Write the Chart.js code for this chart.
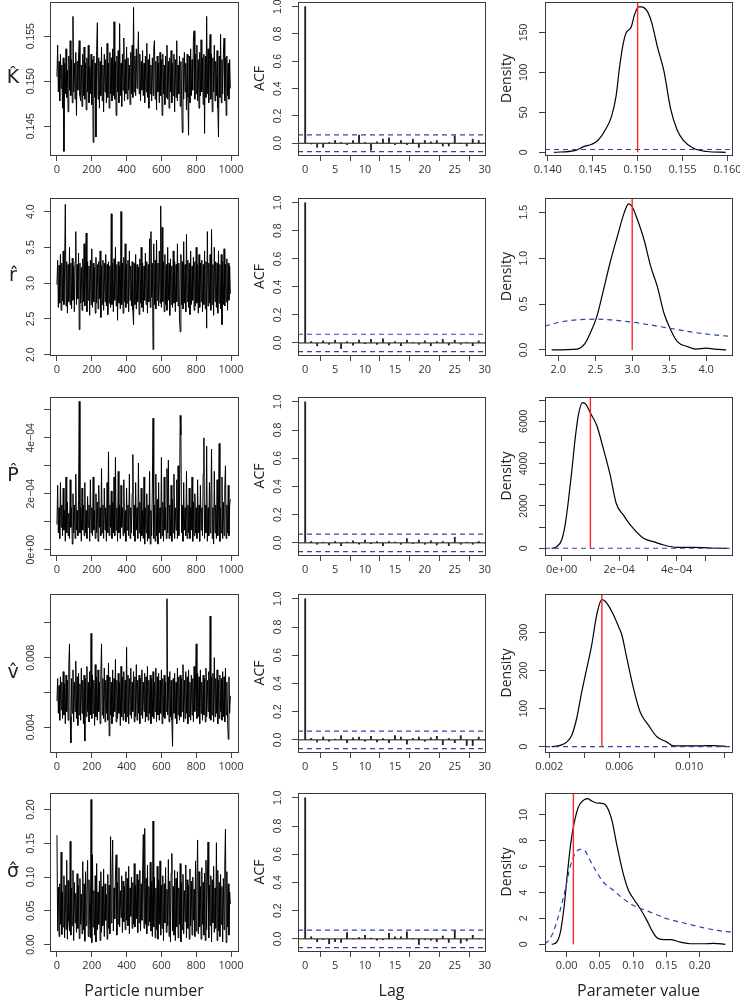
<!DOCTYPE html>
<html>
<head>
<meta charset="utf-8">
<script src="https://cdn.jsdelivr.net/npm/chart.js@4.4.1/dist/chart.umd.min.js"></script>
<style>
html, body { margin: 0; padding: 0; background: #fff; overflow: hidden; }
#page { position: relative; width: 740px; height: 1001px; }
#page canvas { position: absolute; }
</style>
</head>
<body>
<div id="page"></div>
<script>
// ---- data ----
const particleStep = 4;          // one trace value every 4 particles
const traceXTicks = [0, 200, 400, 600, 800, 1000];
const traceXLabels = ['0', '200', '400', '600', '800', '1000'];

const traceK = [
  0.1505, 0.1540, 0.1488, 0.1522, 0.1478, 0.1530, 0.1492, 0.1518, 0.1470, 0.1526,
  0.1422, 0.1520, 0.1486, 0.1536, 0.1482, 0.1512, 0.1466, 0.1528, 0.1490, 0.1545,
  0.1484, 0.1524, 0.1476, 0.1572, 0.1488, 0.1520, 0.1480, 0.1532, 0.1462, 0.1522,
  0.1490, 0.1528, 0.1545, 0.1484, 0.1478, 0.1518, 0.1472, 0.1530, 0.1484, 0.1538,
  0.1480, 0.1520, 0.1468, 0.1526, 0.1488, 0.1540, 0.1476, 0.1516, 0.1486, 0.1530,
  0.1474, 0.1524, 0.1432, 0.1528, 0.1482, 0.1520, 0.1438, 0.1534, 0.1565, 0.1480,
  0.1526, 0.1470, 0.1522, 0.1484, 0.1538, 0.1478, 0.1518, 0.1466, 0.1530, 0.1488,
  0.1524, 0.1476, 0.1542, 0.1482, 0.1520, 0.1470, 0.1532, 0.1486, 0.1526, 0.1478,
  0.1536, 0.1484, 0.1566, 0.1480, 0.1522, 0.1462, 0.1528, 0.1488, 0.1534, 0.1476,
  0.1564, 0.1484, 0.1520, 0.1472, 0.1530, 0.1490, 0.1548, 0.1478, 0.1524, 0.1486,
  0.1538, 0.1480, 0.1526, 0.1490, 0.1518, 0.1474, 0.1532, 0.1486, 0.1540, 0.1482,
  0.1582, 0.1488, 0.1528, 0.1484, 0.1536, 0.1492, 0.1524, 0.1555, 0.1486, 0.1530,
  0.1478, 0.1522, 0.1490, 0.1534, 0.1484, 0.1520, 0.1476, 0.1528, 0.1488, 0.1542,
  0.1482, 0.1524, 0.1470, 0.1530, 0.1486, 0.1518, 0.1478, 0.1526, 0.1484, 0.1536,
  0.1545, 0.1480, 0.1522, 0.1468, 0.1528, 0.1488, 0.1520, 0.1476, 0.1532, 0.1484,
  0.1524, 0.1462, 0.1530, 0.1486, 0.1518, 0.1474, 0.1528, 0.1482, 0.1540, 0.1480,
  0.1522, 0.1470, 0.1526, 0.1488, 0.1534, 0.1476, 0.1520, 0.1484, 0.1530, 0.1466,
  0.1524, 0.1482, 0.1545, 0.1478, 0.1518, 0.1486, 0.1528, 0.1472, 0.1522, 0.1484,
  0.1443, 0.1526, 0.1480, 0.1532, 0.1488, 0.1520, 0.1468, 0.1530, 0.1482, 0.1440,
  0.1528, 0.1476, 0.1536, 0.1484, 0.1524, 0.1490, 0.1548, 0.1556, 0.1480, 0.1530,
  0.1486, 0.1540, 0.1478, 0.1524, 0.1470, 0.1532, 0.1484, 0.1546, 0.1488, 0.1526,
  0.1474, 0.1530, 0.1442, 0.1528, 0.1482, 0.1572, 0.1486, 0.1536, 0.1476, 0.1524,
  0.1552, 0.1480, 0.1530, 0.1466, 0.1526, 0.1488, 0.1540, 0.1478, 0.1522, 0.1484,
  0.1534, 0.1470, 0.1438, 0.1528, 0.1482, 0.1552, 0.1476, 0.1524, 0.1486, 0.1530,
  0.1548, 0.1478, 0.1526, 0.1462, 0.1528, 0.1484, 0.1520, 0.1480, 0.1524, 0.1492];
const traceR = [
  2.98, 3.32, 2.66, 3.25, 2.72, 3.40, 2.62, 3.28, 2.75, 3.45,
  2.70, 3.22, 4.10, 2.68, 3.30, 2.58, 3.26, 2.74, 3.50, 2.70,
  3.28, 2.64, 3.35, 2.76, 3.24, 2.60, 3.30, 3.72, 2.70, 3.26,
  2.78, 3.42, 2.35, 3.28, 2.72, 3.22, 2.62, 3.34, 2.74, 3.55,
  2.68, 3.26, 3.70, 2.60, 3.30, 2.76, 3.24, 2.55, 3.32, 2.70,
  3.48, 2.66, 3.28, 2.74, 3.22, 2.58, 3.36, 2.72, 3.26, 2.64,
  3.30, 2.78, 3.45, 2.52, 3.24, 2.70, 3.32, 2.62, 3.28, 2.74,
  3.40, 2.68, 3.26, 2.56, 3.30, 2.72, 3.24, 2.66, 3.97, 2.70,
  3.28, 2.60, 3.34, 2.76, 3.50, 2.68, 3.26, 2.48, 3.30, 2.72,
  3.24, 2.64, 4.00, 2.70, 3.28, 2.58, 3.36, 2.74, 3.55, 2.66,
  3.26, 2.72, 3.32, 2.60, 3.45, 2.76, 3.24, 2.68, 3.30, 2.62,
  2.42, 3.28, 2.70, 3.40, 2.64, 3.26, 2.74, 3.22, 2.56, 3.34,
  2.72, 3.50, 2.66, 3.28, 2.60, 3.24, 2.76, 3.42, 2.70, 3.30,
  2.58, 3.26, 2.74, 3.62, 2.66, 3.72, 2.80, 3.28, 2.07, 3.55,
  2.70, 3.32, 2.64, 3.60, 2.76, 3.28, 2.68, 3.45, 2.72, 4.08,
  2.66, 3.78, 2.74, 3.30, 2.60, 3.40, 2.70, 3.26, 2.62, 3.50,
  2.76, 3.28, 2.55, 3.34, 2.70, 3.24, 2.66, 3.45, 2.72, 3.30,
  2.60, 3.26, 2.74, 3.55, 2.68, 3.28, 2.50, 2.32, 3.40, 2.70,
  3.30, 2.64, 3.58, 2.72, 3.26, 2.60, 3.68, 2.74, 3.32, 2.66,
  3.28, 2.56, 3.45, 2.70, 3.24, 2.76, 3.36, 2.62, 3.30, 2.68,
  3.50, 2.72, 3.26, 2.58, 3.40, 2.66, 3.28, 2.74, 3.32, 2.60,
  3.26, 2.70, 3.45, 2.64, 3.30, 2.37, 3.72, 2.68, 3.28, 2.72,
  3.40, 2.62, 3.75, 2.70, 3.26, 2.55, 3.50, 2.74, 3.30, 2.66,
  3.28, 2.58, 3.45, 2.72, 3.26, 2.64, 3.40, 2.42, 3.30, 2.70,
  3.48, 2.68, 3.26, 2.74, 3.34, 2.62, 3.28, 2.76, 3.24, 2.85];
// P in units of 1e-4
const traceP = [
  0.9, 2.3, 0.6, 1.5, 0.4, 2.4, 0.8, 1.6, 0.5, 2.2,
  0.7, 1.4, 0.3, 2.6, 0.6, 1.7, 0.5, 1.3, 0.4, 2.5,
  0.8, 1.5, 0.2, 2.0, 0.6, 1.6, 0.4, 2.7, 0.7, 1.4,
  0.5, 1.8, 5.3, 0.6, 1.5, 0.3, 2.2, 0.7, 1.6, 0.5,
  2.4, 0.6, 1.4, 0.4, 1.9, 0.8, 1.6, 0.3, 2.5, 0.6,
  1.5, 0.5, 2.6, 0.7, 1.4, 0.4, 2.0, 0.6, 1.7, 0.3,
  2.3, 0.8, 1.5, 0.5, 2.9, 0.6, 1.6, 0.4, 2.2, 0.7,
  1.5, 0.3, 2.4, 0.6, 3.5, 0.5, 1.6, 0.8, 2.1, 0.4,
  1.7, 0.6, 2.6, 0.5, 3.3, 0.7, 1.5, 0.3, 2.8, 0.6,
  1.6, 0.4, 2.3, 0.8, 1.5, 0.5, 2.5, 0.6, 1.4, 0.3,
  2.2, 0.7, 1.6, 0.5, 2.7, 0.4, 1.5, 0.6, 2.0, 3.4,
  0.5, 1.6, 0.3, 2.4, 0.7, 1.5, 0.4, 3.1, 0.6, 1.7,
  0.3, 2.2, 0.5, 1.4, 0.4, 2.6, 0.2, 1.5, 0.6, 2.0,
  0.3, 1.6, 0.4, 2.8, 0.2, 1.4, 0.5, 2.2, 4.7, 0.4,
  1.6, 0.3, 2.7, 0.5, 1.8, 0.2, 2.4, 0.6, 1.5, 0.4,
  3.3, 0.5, 1.7, 0.3, 2.6, 0.7, 1.5, 0.4, 2.9, 0.6,
  3.2, 0.4, 1.6, 0.5, 2.3, 0.3, 1.8, 0.6, 2.7, 0.4,
  1.5, 0.7, 2.5, 0.4, 3.0, 0.5, 1.7, 4.8, 4.1, 0.6,
  1.6, 0.3, 2.4, 0.7, 1.5, 0.5, 2.8, 0.4, 1.6, 0.6,
  2.2, 0.4, 1.5, 0.7, 2.6, 0.3, 1.7, 0.5, 2.0, 0.6,
  1.5, 0.4, 2.5, 0.6, 1.6, 0.3, 2.3, 0.7, 1.5, 0.5,
  2.7, 4.0, 0.4, 1.6, 0.6, 3.7, 0.3, 1.5, 0.5, 2.4,
  0.6, 1.7, 3.6, 0.4, 1.5, 0.2, 2.8, 0.6, 1.6, 0.4,
  2.5, 0.5, 1.6, 3.8, 0.3, 1.5, 0.6, 2.6, 0.4, 1.7,
  0.5, 2.2, 3.0, 0.4, 1.6, 0.6, 2.3, 0.5, 1.6, 1.8];
// v in units of 1e-3
const traceV = [
  5.5, 6.8, 4.8, 6.4, 4.4, 6.9, 5.0, 6.6, 4.5, 7.2,
  4.7, 6.5, 4.2, 7.0, 4.9, 6.7, 4.4, 7.6, 8.8, 4.6,
  3.1, 6.8, 4.8, 7.3, 4.3, 6.6, 4.9, 7.8, 4.5, 6.9,
  4.1, 7.1, 4.7, 6.5, 4.4, 7.4, 4.8, 6.7, 4.2, 7.0,
  3.2, 6.8, 4.6, 7.5, 4.9, 6.6, 4.3, 7.2, 4.7, 9.4,
  4.5, 7.0, 4.8, 6.7, 4.1, 7.6, 4.6, 6.9, 4.4, 7.3,
  4.9, 6.6, 4.2, 7.1, 8.8, 4.7, 6.8, 4.5, 7.4, 4.3,
  6.7, 4.8, 7.0, 4.4, 7.7, 3.5, 6.9, 4.7, 6.6, 4.2,
  7.3, 4.6, 6.8, 4.9, 7.9, 4.3, 6.7, 4.5, 7.1, 4.8,
  6.6, 4.1, 7.5, 4.6, 6.9, 4.4, 7.2, 4.8, 6.7, 4.3,
  8.6, 4.6, 7.0, 4.2, 6.8, 4.7, 7.4, 4.5, 6.6, 4.9,
  7.2, 4.3, 6.9, 4.6, 7.6, 4.4, 6.7, 4.8, 7.0, 4.2,
  6.8, 4.7, 7.3, 4.5, 6.6, 4.9, 7.1, 4.3, 6.9, 4.6,
  7.5, 4.4, 6.7, 4.8, 7.0, 4.2, 6.8, 4.6, 7.2, 4.5,
  6.6, 4.9, 7.4, 4.3, 6.9, 4.7, 7.1, 4.4, 6.7, 4.8,
  7.3, 4.2, 6.8, 4.6, 7.0, 4.5, 6.6, 4.9, 11.4, 4.7,
  6.9, 4.3, 7.2, 4.6, 6.7, 4.4, 2.9, 6.8, 4.8, 7.1,
  4.5, 6.6, 4.2, 7.4, 4.7, 6.9, 4.4, 7.0, 4.6, 6.8,
  4.9, 7.6, 4.3, 6.7, 4.5, 7.2, 4.8, 6.9, 4.2, 7.3,
  4.6, 6.6, 4.4, 7.0, 4.7, 6.8, 4.3, 7.5, 4.9, 6.7,
  8.8, 4.5, 7.1, 4.6, 6.9, 4.2, 7.3, 4.8, 6.6, 4.4,
  7.0, 4.7, 6.8, 4.3, 7.4, 4.6, 6.7, 4.9, 7.2, 4.5,
  10.4, 4.4, 6.9, 4.7, 7.1, 4.3, 8.0, 4.6, 6.8, 4.8,
  7.3, 4.2, 6.7, 4.5, 7.0, 4.9, 6.8, 4.4, 7.2, 4.6,
  6.9, 4.3, 7.4, 4.7, 6.6, 4.5, 3.3, 6.9, 4.8, 5.8];
const traceSigma = [
  0.162, 0.020, 0.085, 0.012, 0.090, 0.030, 0.137, 0.015, 0.078, 0.026,
  0.102, 0.010, 0.088, 0.022, 0.125, 0.008, 0.095, 0.035, 0.020, 0.153,
  0.014, 0.084, 0.028, 0.110, 0.006, 0.092, 0.032, 0.076, 0.018, 0.105,
  0.024, 0.088, 0.009, 0.098, 0.030, 0.075, 0.016, 0.123, 0.022, 0.090,
  0.005, 0.108, 0.028, 0.082, 0.125, 0.012, 0.096, 0.034, 0.010, 0.215,
  0.003, 0.133, 0.026, 0.080, 0.014, 0.102, 0.004, 0.120, 0.022, 0.078,
  0.030, 0.094, 0.006, 0.108, 0.018, 0.086, 0.028, 0.112, 0.012, 0.090,
  0.036, 0.074, 0.008, 0.104, 0.024, 0.088, 0.016, 0.160, 0.032, 0.096,
  0.155, 0.020, 0.084, 0.038, 0.106, 0.133, 0.014, 0.092, 0.030, 0.114,
  0.026, 0.080, 0.040, 0.102, 0.018, 0.094, 0.034, 0.086, 0.022, 0.108,
  0.036, 0.098, 0.028, 0.116, 0.016, 0.084, 0.042, 0.100, 0.024, 0.092,
  0.030, 0.120, 0.026, 0.088, 0.038, 0.104, 0.018, 0.096, 0.032, 0.110,
  0.020, 0.090, 0.036, 0.106, 0.163, 0.024, 0.172, 0.030, 0.098, 0.016,
  0.118, 0.028, 0.086, 0.034, 0.122, 0.020, 0.094, 0.012, 0.183, 0.026,
  0.100, 0.010, 0.084, 0.022, 0.116, 0.008, 0.096, 0.030, 0.124, 0.014,
  0.088, 0.024, 0.102, 0.006, 0.090, 0.032, 0.114, 0.018, 0.082, 0.028,
  0.126, 0.012, 0.094, 0.004, 0.106, 0.135, 0.020, 0.086, 0.014, 0.110,
  0.006, 0.098, 0.026, 0.108, 0.010, 0.084, 0.030, 0.120, 0.004, 0.092,
  0.022, 0.104, 0.016, 0.080, 0.034, 0.118, 0.010, 0.096, 0.024, 0.088,
  0.008, 0.112, 0.028, 0.094, 0.014, 0.100, 0.036, 0.082, 0.012, 0.124,
  0.020, 0.090, 0.155, 0.016, 0.108, 0.026, 0.086, 0.008, 0.114, 0.030,
  0.092, 0.014, 0.106, 0.006, 0.125, 0.022, 0.094, 0.152, 0.010, 0.088,
  0.028, 0.102, 0.004, 0.096, 0.032, 0.116, 0.018, 0.084, 0.024, 0.151,
  0.006, 0.110, 0.020, 0.092, 0.012, 0.104, 0.030, 0.086, 0.004, 0.098,
  0.022, 0.118, 0.171, 0.003, 0.108, 0.026, 0.090, 0.014, 0.078, 0.060];

const traceKTicks = [0.145, 0.150, 0.155];
const traceKLabels = ['0.145', '0.150', '0.155'];
const traceRTicks = [2.0, 2.5, 3.0, 3.5, 4.0];
const traceRLabels = ['2.0', '2.5', '3.0', '3.5', '4.0'];
const tracePTicks = [0, 1, 2, 3, 4, 5];
const tracePLabels = ['0e+00', '', '2e\u221204', '', '4e\u221204', ''];
const traceVTicks = [4, 6, 8, 10];
const traceVLabels = ['0.004', '', '0.008', ''];
const traceSigmaTicks = [0, 0.05, 0.10, 0.15, 0.20];
const traceSigmaLabels = ['0.00', '0.05', '0.10', '0.15', '0.20'];

// autocorrelation, lags 0..30
const lags = [0, 1, 2, 3, 4, 5, 6, 7, 8, 9, 10, 11, 12, 13, 14, 15, 16, 17, 18, 19, 20, 21, 22, 23, 24, 25, 26, 27, 28, 29, 30];
const acfK = [1, -0.005, -0.03, -0.03, 0.005, 0.02, 0.005, -0.01, 0.02, 0.06, 0.005, -0.05, 0.01, 0.03, 0.04, -0.01, 0.02, -0.01, 0.03, -0.03, 0.02, 0.01, 0.02, -0.02, -0.02, 0.055, 0, -0.02, 0.03, 0.02, 0];
const acfR = [1, 0.01, -0.02, 0.015, -0.01, 0.02, -0.04, 0.01, -0.015, 0.02, -0.005, 0.025, -0.01, 0.03, -0.015, 0.01, -0.02, 0.02, 0.005, -0.01, 0.015, -0.02, 0.01, 0.025, -0.015, 0.02, -0.01, 0.005, -0.02, 0.015, 0];
const acfP = [1, 0.01, -0.01, 0.005, -0.015, 0.01, -0.02, 0.005, 0.015, -0.01, 0.02, -0.005, 0.01, -0.02, 0.01, 0.005, -0.01, 0.03, -0.005, 0.02, -0.01, 0.015, -0.015, 0.01, -0.02, 0.04, -0.01, 0.005, -0.01, 0.01, 0];
const acfV = [1, 0.01, -0.015, 0.02, -0.01, 0.005, 0.03, -0.02, 0.015, 0.02, -0.01, 0.025, -0.015, 0.01, -0.02, 0.03, 0.02, -0.03, 0.01, 0.02, -0.01, 0.015, 0.025, -0.035, 0.01, -0.02, 0.03, -0.04, -0.04, 0.02, 0];
const acfSigma = [1, 0.015, -0.02, -0.005, -0.035, -0.02, -0.025, 0.045, 0, 0.01, 0.025, 0.005, -0.01, -0.005, 0.04, 0.015, 0.015, 0.05, 0, -0.04, -0.005, -0.01, -0.02, 0.02, -0.025, 0.06, -0.03, -0.015, 0.025, 0, 0];
const acfBound = 0.062;
const acfXTicks = [0, 5, 10, 15, 20, 25, 30];
const acfXLabels = ['0', '5', '10', '15', '20', '25', '30'];
const acfYTicks = [0, 0.2, 0.4, 0.6, 0.8, 1.0];
const acfYLabels = ['0.0', '0.2', '0.4', '0.6', '0.8', '1.0'];

// posterior densities (black), priors (blue dashed), true values (red)
const densKx = [0.1407, 0.1430, 0.1440, 0.1449, 0.1456, 0.1463, 0.1471, 0.1476, 0.1480, 0.1484, 0.1487, 0.1493, 0.1496, 0.1501, 0.1504, 0.1511, 0.1516, 0.1522, 0.1529, 0.1537, 0.1544, 0.1551, 0.1562, 0.1577, 0.1598];
const densKy = [0, 2, 7, 10, 15, 26, 45, 70, 107, 136, 149, 157, 170, 182, 182, 176, 161, 132, 103, 53, 28, 15, 5, 1, 0];
const priorKx = [0.1397, 0.1605];
const priorKy = [3.5, 3.5];
const densRx = [1.91, 2.25, 2.36, 2.43, 2.52, 2.61, 2.70, 2.80, 2.89, 2.95, 3.00, 3.07, 3.16, 3.25, 3.34, 3.43, 3.52, 3.61, 3.75, 3.86, 4.00, 4.11, 4.27];
const densRy = [0, 0.01, 0.07, 0.18, 0.36, 0.65, 0.95, 1.24, 1.49, 1.59, 1.56, 1.42, 1.20, 0.91, 0.69, 0.40, 0.22, 0.09, 0.036, 0.01, 0.02, 0.01, 0];
const priorRx = [1.82, 2.07, 2.52, 3.02, 3.48, 3.93, 4.36];
const priorRy = [0.26, 0.31, 0.335, 0.30, 0.24, 0.18, 0.145];
// P in units of 1e-4
const densPx = [-0.35, -0.17, 0, 0.12, 0.23, 0.35, 0.47, 0.58, 0.73, 0.85, 1.01, 1.22, 1.45, 1.69, 1.90, 2.15, 2.44, 2.85, 3.2, 3.55, 4.01, 4.59, 5.17, 5.76];
const densPy = [0, 78, 392, 1099, 2198, 3611, 5181, 6279, 6876, 6782, 6358, 5808, 4710, 3454, 2119, 1570, 1020, 471, 314, 157, 47, 47, 16, 0];
const priorPx = [-0.58, 5.93];
const priorPy = [5, 5];
// v in units of 1e-3
const densVx = [2.13, 2.61, 2.99, 3.28, 3.56, 3.85, 4.14, 4.42, 4.71, 5.0, 5.19, 5.57, 5.95, 6.14, 6.43, 6.81, 7.19, 7.67, 8.15, 8.72, 9.1, 10.63, 11.39, 12.15];
const densVy = [0, 3.5, 12, 30, 74, 144, 206, 267, 347, 386, 382, 355, 316, 294, 232, 153, 91, 56, 26, 12, 2, 2, 3, 0];
const priorVx = [1.75, 12.44];
const priorVy = [0.3, 0.3];
const densSx = [-0.0226, -0.015, -0.010, -0.004, 0.001, 0.006, 0.011, 0.0176, 0.025, 0.031, 0.0377, 0.045, 0.055, 0.060, 0.068, 0.075, 0.085, 0.093, 0.1005, 0.1106, 0.1206, 0.128, 0.1357, 0.1457, 0.1558, 0.1708, 0.186, 0.206, 0.221, 0.2387];
const densSy = [0, 0.18, 0.82, 2.88, 5.45, 7.76, 9.3, 10.6, 11.1, 11.23, 11.05, 10.9, 10.85, 10.64, 9.56, 7.76, 5.45, 4.16, 3.52, 2.75, 1.85, 1.08, 0.51, 0.36, 0.36, 0.18, 0.05, 0.05, 0.08, 0];
const priorSx = [-0.0327, -0.025, -0.0176, -0.010, -0.0025, 0.005, 0.0126, 0.020, 0.0276, 0.035, 0.045, 0.055, 0.0704, 0.085, 0.1005, 0.1256, 0.1508, 0.176, 0.201, 0.226, 0.2487];
const priorSy = [0.05, 0.44, 1.34, 2.62, 4.16, 5.96, 6.99, 7.33, 7.2, 6.48, 5.58, 4.81, 4.16, 3.52, 3.0, 2.49, 1.98, 1.65, 1.34, 1.08, 0.95];
const trueValues = [0.150, 3.0, 1.0, 5.0, 0.01];

const densKXTicks = [0.140, 0.145, 0.150, 0.155, 0.160];
const densKXLabels = ['0.140', '0.145', '0.150', '0.155', '0.160'];
const densKYTicks = [0, 50, 100, 150];
const densKYLabels = ['0', '50', '100', '150'];
const densRXTicks = [2.0, 2.5, 3.0, 3.5, 4.0];
const densRXLabels = ['2.0', '2.5', '3.0', '3.5', '4.0'];
const densRYTicks = [0, 0.5, 1.0, 1.5];
const densRYLabels = ['0.0', '0.5', '1.0', '1.5'];
const densPXTicks = [0, 1, 2, 3, 4, 5];
const densPXLabels = ['0e+00', '', '2e\u221204', '', '4e\u221204', ''];
const densPYTicks = [0, 1000, 2000, 3000, 4000, 5000, 6000, 7000];
const densPYLabels = ['0', '', '2000', '', '4000', '', '6000', ''];
const densVXTicks = [2, 4, 6, 8, 10, 12];
const densVXLabels = ['0.002', '', '0.006', '', '0.010', ''];
const densVYTicks = [0, 100, 200, 300];
const densVYLabels = ['0', '100', '200', '300'];
const densSXTicks = [0, 0.05, 0.10, 0.15, 0.20];
const densSXLabels = ['0.00', '0.05', '0.10', '0.15', '0.20'];
const densSYTicks = [0, 2, 4, 6, 8, 10];
const densSYLabels = ['0', '2', '4', '6', '8', '10'];

// ---- layout (pixel boxes of each panel) ----
const cols = [{L: 50, R: 238, pad: 14, gap: 19}, {L: 298, R: 485, pad: 14, gap: 20}, {L: 545, R: 732, pad: 8, gap: 21}];
const rows = [{T: 2, B: 155}, {T: 198, B: 355}, {T: 397, B: 555}, {T: 594, B: 752}, {T: 793, B: 951}];
const tickFont = '"Open Sans", "DejaVu Sans", sans-serif';
const blue = '#2a44a8';
const red = '#ff2626';

const panelRows = [
  {trace: traceK, tMin: 0.1418, tMax: 0.1588, tTicks: traceKTicks, tLabels: traceKLabels, symbol: 'K\u0302', acf: acfK,
   dX: densKx, dY: densKy, pX: priorKx, pY: priorKy, xMin: 0.1397, xMax: 0.1605, yMin: -3.4, yMax: 188,
   dxT: densKXTicks, dxL: densKXLabels, dyT: densKYTicks, dyL: densKYLabels},
  {trace: traceR, tMin: 1.995, tMax: 4.19, tTicks: traceRTicks, tLabels: traceRLabels, symbol: 'r\u0302', acf: acfR,
   dX: densRx, dY: densRy, pX: priorRx, pY: priorRy, xMin: 1.82, xMax: 4.35, yMin: -0.055, yMax: 1.655,
   dxT: densRXTicks, dxL: densRXLabels, dyT: densRYTicks, dyL: densRYLabels},
  {trace: traceP, tMin: -0.19, tMax: 5.46, tTicks: tracePTicks, tLabels: tracePLabels, symbol: 'P\u0302', acf: acfP,
   dX: densPx, dY: densPy, pX: priorPx, pY: priorPy, xMin: -0.58, xMax: 5.93, yMin: -314, yMax: 7143,
   dxT: densPXTicks, dxL: densPXLabels, dyT: densPYTicks, dyL: densPYLabels},
  {trace: traceV, tMin: 2.57, tMax: 11.67, tTicks: traceVTicks, tLabels: traceVLabels, symbol: 'v\u0302', acf: acfV,
   dX: densVx, dY: densVy, pX: priorVx, pY: priorVy, xMin: 1.75, xMax: 12.44, yMin: -14, yMax: 401,
   dxT: densVXTicks, dxL: densVXLabels, dyT: densVYTicks, dyL: densVYLabels},
  {trace: traceSigma, tMin: -0.0095, tMax: 0.2246, tTicks: traceSigmaTicks, tLabels: traceSigmaLabels, symbol: '\u03c3\u0302', acf: acfSigma,
   dX: densSx, dY: densSy, pX: priorSx, pY: priorSy, xMin: -0.0327, xMax: 0.2487, yMin: -0.51, yMax: 11.67,
   dxT: densSXTicks, dxL: densSXLabels, dyT: densSYTicks, dyL: densSYLabels}
];
const xTitles = ['Particle number', 'Lag', 'Parameter value'];

// R-like box, rotated y tick labels and axis titles
const rAxes = {
  id: 'rAxes',
  afterDraw(chart, args, o) {
    const ctx = chart.ctx, a = chart.chartArea, ys = chart.scales.y;
    ctx.save();
    ctx.strokeStyle = '#3a3a3a';
    ctx.lineWidth = 1;
    ctx.strokeRect(Math.round(a.left) + 0.5, Math.round(a.top) + 0.5, Math.round(a.right - a.left), Math.round(a.bottom - a.top));
    ctx.fillStyle = '#333';
    ctx.textAlign = 'center';
    ctx.textBaseline = 'middle';
    ctx.font = '10.5px "Liberation Sans", Arial, sans-serif';
    ys.ticks.forEach((t, i) => {
      const lab = o.yLabels[i];
      if (!lab) return;
      ctx.save();
      ctx.translate(a.left - o.gap, ys.getPixelForValue(t.value));
      ctx.rotate(-Math.PI / 2);
      ctx.fillText(lab, 0, 0);
      ctx.restore();
    });
    const cy = (a.top + a.bottom) / 2;
    if (o.yTitle) {
      ctx.font = '14px ' + tickFont;
      ctx.fillStyle = '#222';
      ctx.save();
      ctx.translate(a.left - 38, cy);
      ctx.rotate(-Math.PI / 2);
      ctx.fillText(o.yTitle, 0, 0);
      ctx.restore();
    }
    if (o.symbol) {
      ctx.font = '19px "DejaVu Sans", sans-serif';
      ctx.fillStyle = '#222';
      ctx.fillText(o.symbol, a.left - 37, cy);
    }
    if (o.xTitle) {
      ctx.font = '16px ' + tickFont;
      ctx.fillStyle = '#222';
      ctx.fillText(o.xTitle, (a.left + a.right) / 2, a.bottom + 40);
    }
    ctx.restore();
  }
};

function axis(min, max, ticks, labels, isX, bottom) {
  return {
    type: 'linear', min: min, max: max, offset: false,
    afterBuildTicks: s => { s.ticks = ticks.map(v => ({value: v})); },
    afterFit: s => {
      if (isX) { s.height = bottom; s.paddingLeft = 0; s.paddingRight = 0; }
      else { s.width = 50; s.paddingTop = 0; s.paddingBottom = 0; }
    },
    grid: {display: true, drawOnChartArea: false, drawTicks: true, tickLength: 6, color: '#444', lineWidth: 1},
    border: {display: false},
    ticks: isX
      ? {autoSkip: false, maxRotation: 0, minRotation: 0, padding: 2, color: '#333', font: {family: tickFont, size: 11}, callback: (v, i) => labels[i]}
      : {display: false}
  };
}

function xy(xs, ys) { return xs.map((x, i) => ({x: x, y: ys[i]})); }

const page = document.getElementById('page');
function addChart(ci, ri, datasets, x, y, axesOpts) {
  const col = cols[ci], row = rows[ri];
  const bottom = ri === rows.length - 1 ? 50 : 24;
  const w = col.R - col.L + 50 + col.pad, h = row.B - row.T + 2 + bottom;
  const c = document.createElement('canvas');
  c.width = w; c.height = h;
  c.style.left = (col.L - 50) + 'px';
  c.style.top = (row.T - 2) + 'px';
  page.appendChild(c);
  axesOpts.gap = col.gap;
  if (ri === rows.length - 1) axesOpts.xTitle = xTitles[ci];
  return new Chart(c, {
    type: 'line',
    data: {datasets: datasets},
    options: {
      responsive: false, animation: false, devicePixelRatio: 1, events: [],
      layout: {padding: {left: 0, right: col.pad, top: 2, bottom: 0}},
      plugins: {legend: {display: false}, tooltip: {enabled: false}, rAxes: axesOpts},
      elements: {point: {radius: 0}},
      scales: {
        x: axis(x.min, x.max, x.ticks, x.labels, true, bottom),
        y: axis(y.min, y.max, y.ticks, y.labels, false, bottom)
      }
    },
    plugins: [rAxes]
  });
}

panelRows.forEach((p, ri) => {
  // trace
  addChart(0, ri,
    [{data: p.trace.map((v, i) => ({x: i * particleStep, y: v})), borderColor: '#000', borderWidth: 1, tension: 0}],
    {min: -40, max: 1040, ticks: traceXTicks, labels: traceXLabels},
    {min: p.tMin, max: p.tMax, ticks: p.tTicks, labels: p.tLabels},
    {yLabels: p.tLabels, symbol: p.symbol});

  // autocorrelation
  addChart(1, ri, [
    {data: [{x: -1.2, y: acfBound}, {x: 30.1, y: acfBound}], borderColor: blue, borderWidth: 1.2, borderDash: [5, 4]},
    {data: [{x: -1.2, y: -acfBound}, {x: 30.1, y: -acfBound}], borderColor: blue, borderWidth: 1.2, borderDash: [5, 4]},
    {data: [{x: -1.2, y: 0}, {x: 30.1, y: 0}], borderColor: '#111', borderWidth: 1},
    {type: 'bar', data: xy(lags, p.acf), backgroundColor: '#222', borderWidth: 0, barThickness: 1.2, grouped: false}
  ],
    {min: -1.2, max: 30.05, ticks: acfXTicks, labels: acfXLabels},
    {min: -0.086, max: 1.034, ticks: acfYTicks, labels: acfYLabels},
    {yLabels: acfYLabels, yTitle: 'ACF'});

  // density
  addChart(2, ri, [
    {data: [{x: trueValues[ri], y: 0}, {x: trueValues[ri], y: p.yMax}], borderColor: red, borderWidth: 1.4},
    {data: xy(p.pX, p.pY), borderColor: blue, borderWidth: 1.2, borderDash: [5, 4], cubicInterpolationMode: 'monotone'},
    {data: xy(p.dX, p.dY), borderColor: '#000', borderWidth: 1.2, cubicInterpolationMode: 'monotone'}
  ],
    {min: p.xMin, max: p.xMax, ticks: p.dxT, labels: p.dxL},
    {min: p.yMin, max: p.yMax, ticks: p.dyT, labels: p.dyL},
    {yLabels: p.dyL, yTitle: 'Density'});
});
</script>
</body>
</html>
